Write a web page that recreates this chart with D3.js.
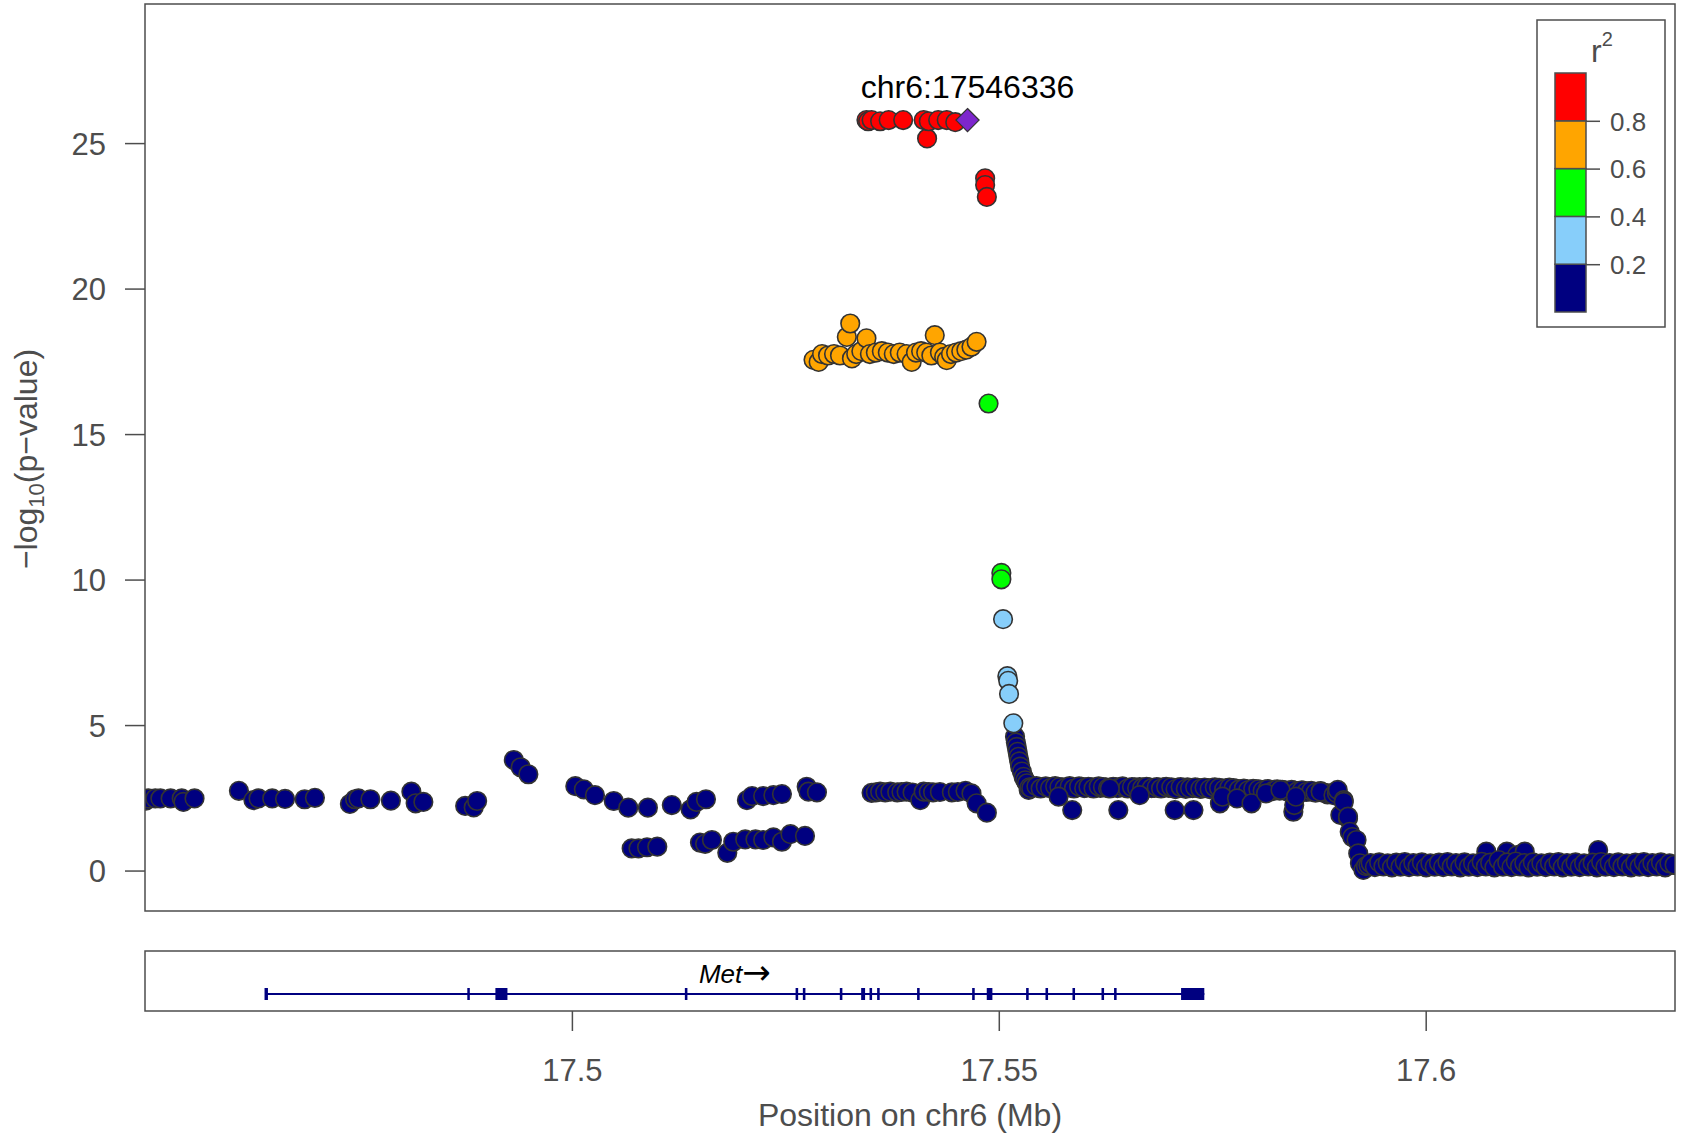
<!DOCTYPE html>
<html lang="en">
	<head>
		<meta charset="UTF-8" />
		<title>LocusZoom-style plot chr6</title>
		<script src="https://d3js.org/d3.v7.min.js"></script>
		<style>
			body { margin: 0; background: #fff; }
			text { font-family: 'Liberation Sans', Arial, sans-serif; }
		</style>
	</head>
	<body>
		<svg width="1681" height="1134"></svg>

		<script>
			// r^2 bins (low -> high) and their colours
			const ldBreaks = [0.2, 0.4, 0.6, 0.8];
			const ldColors = ['#000080', '#87CEFA', '#00FF00', '#FFA500', '#FF0000'];

			// [position (Mb), -log10(p)] per LD bin
			const snpsLow = [
				[17.4500, 2.45], [17.4501, 2.40], [17.4504, 2.48], [17.4512, 2.48], [17.4518, 2.48], [17.4530, 2.48],
				[17.4543, 2.48], [17.4545, 2.36], [17.4558, 2.48], [17.4610, 2.74], [17.4627, 2.42], [17.4633, 2.48],
				[17.4649, 2.48], [17.4664, 2.46], [17.4687, 2.45], [17.4699, 2.50], [17.4740, 2.29], [17.4746, 2.45],
				[17.4750, 2.48], [17.4764, 2.45], [17.4788, 2.40], [17.4812, 2.71], [17.4817, 2.31], [17.4826, 2.36],
				[17.4875, 2.22], [17.4885, 2.17], [17.4889, 2.39], [17.4932, 3.80], [17.4940, 3.55], [17.4949, 3.31],
				[17.5004, 2.90], [17.5014, 2.79], [17.5027, 2.59], [17.5049, 2.39], [17.5066, 2.16], [17.5089, 2.16],
				[17.5117, 2.25], [17.5139, 2.10], [17.5146, 2.36], [17.5157, 2.45], [17.5205, 2.42], [17.5211, 2.56],
				[17.5224, 2.56], [17.5236, 2.59], [17.5246, 2.63], [17.5275, 2.88], [17.5277, 2.71], [17.5287, 2.69],
				[17.5070, 0.76], [17.5078, 0.76], [17.5088, 0.80], [17.5100, 0.82], [17.5150, 0.96], [17.5156, 0.92],
				[17.5164, 1.05], [17.5182, 0.61], [17.5189, 0.99], [17.5203, 1.07], [17.5215, 1.07], [17.5224, 1.05],
				[17.5236, 1.14], [17.5246, 0.99], [17.5256, 1.25], [17.5273, 1.19],
				[17.5351, 2.67], [17.5356, 2.69], [17.5361, 2.71], [17.5367, 2.69], [17.5373, 2.71], [17.5381, 2.69],
				[17.5386, 2.70], [17.5392, 2.71], [17.5399, 2.68], [17.5408, 2.42], [17.5412, 2.71], [17.5418, 2.70],
				[17.5423, 2.69], [17.5431, 2.70], [17.5445, 2.69], [17.5452, 2.70], [17.5461, 2.74], [17.5468, 2.65],
				[17.5474, 2.31], [17.5486, 1.99],
				[17.5519, 4.60], [17.5520, 4.40], [17.5521, 4.25], [17.5522, 4.08], [17.5523, 3.91], [17.5524, 3.75],
				[17.5525, 3.57], [17.5527, 3.40], [17.5529, 3.22], [17.5531, 3.10], [17.5533, 3.00], [17.5535, 2.77],
				[17.5536, 2.86], [17.5541, 2.88], [17.5546, 2.85], [17.5552, 2.87], [17.5557, 2.86], [17.5563, 2.88],
				[17.5568, 2.84], [17.5574, 2.86], [17.5580, 2.87], [17.5585, 2.85], [17.5591, 2.86], [17.5597, 2.88],
				[17.5602, 2.85], [17.5608, 2.86], [17.5614, 2.87], [17.5619, 2.84], [17.5625, 2.86], [17.5631, 2.85],
				[17.5636, 2.87], [17.5642, 2.86], [17.5648, 2.85], [17.5653, 2.84], [17.5659, 2.86], [17.5665, 2.87],
				[17.5670, 2.85], [17.5676, 2.86], [17.5682, 2.84], [17.5687, 2.85], [17.5693, 2.86], [17.5699, 2.84],
				[17.5704, 2.83], [17.5710, 2.85], [17.5716, 2.84], [17.5721, 2.86], [17.5727, 2.83], [17.5733, 2.84],
				[17.5738, 2.82], [17.5744, 2.83], [17.5750, 2.84], [17.5755, 2.81], [17.5761, 2.82], [17.5767, 2.83],
				[17.5772, 2.80], [17.5778, 2.81], [17.5784, 2.79], [17.5789, 2.80], [17.5795, 2.78], [17.5801, 2.79],
				[17.5806, 2.77], [17.5812, 2.78], [17.5818, 2.76], [17.5823, 2.77], [17.5829, 2.75], [17.5835, 2.76],
				[17.5840, 2.74], [17.5846, 2.75], [17.5852, 2.73], [17.5857, 2.74], [17.5863, 2.72], [17.5868, 2.70],
				[17.5874, 2.71], [17.5880, 2.68], [17.5885, 2.62],
				[17.5538, 2.83], [17.5544, 2.90], [17.5549, 2.82], [17.5555, 2.89], [17.5560, 2.83], [17.5566, 2.90],
				[17.5571, 2.87], [17.5577, 2.83], [17.5583, 2.90], [17.5588, 2.82], [17.5594, 2.89], [17.5600, 2.83],
				[17.5605, 2.88], [17.5611, 2.82], [17.5617, 2.89], [17.5622, 2.87], [17.5628, 2.83], [17.5634, 2.88],
				[17.5639, 2.83], [17.5645, 2.89], [17.5651, 2.82], [17.5656, 2.87], [17.5662, 2.83], [17.5668, 2.84],
				[17.5673, 2.88], [17.5679, 2.83], [17.5685, 2.87], [17.5690, 2.82], [17.5696, 2.88], [17.5702, 2.86],
				[17.5707, 2.80], [17.5713, 2.87], [17.5719, 2.81], [17.5724, 2.83], [17.5730, 2.86], [17.5736, 2.81],
				[17.5741, 2.85], [17.5747, 2.80], [17.5753, 2.86], [17.5758, 2.84], [17.5764, 2.79], [17.5770, 2.85],
				[17.5775, 2.83], [17.5781, 2.78], [17.5787, 2.82], [17.5792, 2.76], [17.5798, 2.81], [17.5804, 2.79],
				[17.5809, 2.74], [17.5815, 2.80], [17.5821, 2.73], [17.5826, 2.79], [17.5832, 2.77], [17.5838, 2.72],
				[17.5843, 2.77], [17.5849, 2.71], [17.5855, 2.76], [17.5860, 2.70], [17.5866, 2.74], [17.5871, 2.68],
				[17.5877, 2.73], [17.5883, 2.66], [17.5888, 2.65],
				[17.5570, 2.54], [17.5586, 2.08], [17.5630, 2.82], [17.5640, 2.08], [17.5665, 2.59], [17.5706, 2.08],
				[17.5728, 2.08], [17.5759, 2.31], [17.5762, 2.54], [17.5779, 2.48], [17.5796, 2.31], [17.5813, 2.65],
				[17.5830, 2.77], [17.5845, 2.02], [17.5846, 2.25], [17.5848, 2.54], [17.5877, 2.71],
				[17.5892, 2.59], [17.5896, 2.65], [17.5897, 2.77], [17.5900, 1.91], [17.5904, 2.42], [17.5904, 2.36],
				[17.5909, 1.79], [17.5909, 1.85], [17.5911, 1.33], [17.5914, 1.15], [17.5919, 1.05], [17.5921, 0.59],
				[17.5923, 0.25], [17.5927, 0.02], [17.5930, 0.15],
				[17.5933, 0.18], [17.5938, 0.21], [17.5943, 0.17], [17.5948, 0.20], [17.5953, 0.19], [17.5958, 0.22],
				[17.5963, 0.18], [17.5968, 0.20], [17.5973, 0.17], [17.5978, 0.21], [17.5983, 0.19], [17.5988, 0.20],
				[17.5993, 0.18], [17.5998, 0.22], [17.6003, 0.19], [17.6008, 0.17], [17.6013, 0.21], [17.6018, 0.20],
				[17.6023, 0.18], [17.6028, 0.22], [17.6033, 0.19], [17.6038, 0.20], [17.6043, 0.17], [17.6048, 0.21],
				[17.6053, 0.19], [17.6058, 0.20], [17.6063, 0.23], [17.6068, 0.18], [17.6071, 0.65], [17.6073, 0.20],
				[17.6078, 0.19], [17.6083, 0.22], [17.6088, 0.18], [17.6093, 0.21], [17.6095, 0.65], [17.6098, 0.20],
				[17.6103, 0.19], [17.6107, 0.53], [17.6108, 0.22], [17.6113, 0.18], [17.6116, 0.65], [17.6118, 0.20],
				[17.6123, 0.21], [17.6128, 0.19], [17.6133, 0.17], [17.6138, 0.20], [17.6143, 0.22], [17.6148, 0.18],
				[17.6153, 0.21], [17.6158, 0.19], [17.6163, 0.20], [17.6168, 0.17], [17.6173, 0.22], [17.6178, 0.19],
				[17.6183, 0.21], [17.6188, 0.18], [17.6193, 0.20], [17.6198, 0.19], [17.6202, 0.70], [17.6203, 0.21],
				[17.6208, 0.18], [17.6213, 0.20], [17.6218, 0.22], [17.6223, 0.19], [17.6228, 0.17], [17.6233, 0.21],
				[17.6238, 0.20], [17.6243, 0.18], [17.6248, 0.22], [17.6253, 0.19], [17.6258, 0.20], [17.6263, 0.21],
				[17.6268, 0.18], [17.6273, 0.20], [17.6278, 0.19], [17.6283, 0.22], [17.6288, 0.20], [17.6294, 0.18],
				[17.59355, 0.26], [17.59405, 0.12], [17.59455, 0.28], [17.59505, 0.14], [17.59555, 0.25], [17.59605, 0.11],
				[17.59655, 0.27], [17.59705, 0.13], [17.59755, 0.29], [17.59805, 0.12], [17.59855, 0.26], [17.59905, 0.14],
				[17.59955, 0.28], [17.60005, 0.11], [17.60055, 0.25], [17.60105, 0.13], [17.60155, 0.27], [17.60205, 0.12],
				[17.60255, 0.29], [17.60305, 0.14], [17.60355, 0.26], [17.60405, 0.11], [17.60455, 0.28], [17.60505, 0.13],
				[17.60555, 0.25], [17.60605, 0.12], [17.60655, 0.30], [17.60705, 0.14], [17.60755, 0.27], [17.60805, 0.11],
				[17.60855, 0.36], [17.60905, 0.13], [17.60955, 0.28], [17.61005, 0.12], [17.61055, 0.31], [17.61105, 0.14],
				[17.61155, 0.26], [17.61205, 0.11], [17.61255, 0.28], [17.61305, 0.13], [17.61355, 0.25], [17.61405, 0.12],
				[17.61455, 0.27], [17.61505, 0.14], [17.61555, 0.29], [17.61605, 0.11], [17.61655, 0.26], [17.61705, 0.13],
				[17.61755, 0.28], [17.61805, 0.12], [17.61855, 0.25], [17.61905, 0.14], [17.61955, 0.27], [17.62005, 0.11],
				[17.62055, 0.29], [17.62105, 0.13], [17.62155, 0.26], [17.62205, 0.12], [17.62255, 0.28], [17.62305, 0.14],
				[17.62355, 0.25], [17.62405, 0.11], [17.62455, 0.27], [17.62505, 0.13], [17.62555, 0.29], [17.62605, 0.12],
				[17.62655, 0.26], [17.62705, 0.14], [17.62755, 0.28], [17.62805, 0.11], [17.62855, 0.25], [17.62915, 0.20]
			];
			const snpsMidLow = [
				[17.5505, 8.64], [17.5510, 6.68], [17.5511, 6.52], [17.5512, 6.07], [17.5517, 5.06]
			];
			const snpsMid = [
				[17.5488, 16.05], [17.5503, 10.23], [17.5503, 10.01]
			];
			const snpsMidHigh = [
				[17.5283, 17.55], [17.5289, 17.48], [17.5293, 17.75], [17.5300, 17.70], [17.5307, 17.75], [17.5314, 17.70],
				[17.5322, 18.34], [17.5326, 18.80], [17.5328, 17.60], [17.5333, 17.75], [17.5339, 17.85], [17.5345, 18.29],
				[17.5349, 17.75], [17.5356, 17.80], [17.5363, 17.85], [17.5370, 17.80], [17.5377, 17.75], [17.5384, 17.80],
				[17.5392, 17.75], [17.5398, 17.48], [17.5403, 17.80], [17.5409, 17.85], [17.5415, 17.80], [17.5421, 17.70],
				[17.5425, 18.40], [17.5431, 17.80], [17.5436, 17.65], [17.5439, 17.54], [17.5444, 17.75], [17.5450, 17.80],
				[17.5456, 17.85], [17.5462, 17.90], [17.5468, 18.00], [17.5474, 18.17]
			];
			const snpsHigh = [
				[17.5345, 25.79], [17.5347, 25.75], [17.5351, 25.79], [17.5361, 25.75], [17.5371, 25.79], [17.5388, 25.79],
				[17.5412, 25.79], [17.5416, 25.16], [17.5418, 25.75], [17.5429, 25.79], [17.5439, 25.79], [17.5449, 25.72],
				[17.5484, 23.79], [17.5484, 23.56], [17.5486, 23.15]
			];
			const leadSnp = { name: 'chr6:17546336', pos: 17.546336, logp: 25.79 };

			// gene track: Met
			const geneName = 'Met';
			const geneSpan = [17.46409, 17.57407];
			const exonStarts = [17.46400, 17.48775, 17.49104, 17.51323, 17.52620, 17.52705, 17.53138, 17.53388, 17.53486, 17.53575,
				17.54043, 17.54688, 17.54859, 17.55320, 17.55547, 17.55863, 17.56203, 17.56350, 17.57135];
			const exonEnds = [17.46440, 17.48795, 17.49245, 17.51353, 17.52650, 17.52735, 17.53168, 17.53434, 17.53516, 17.53605,
				17.54073, 17.54718, 17.54925, 17.55350, 17.55577, 17.55893, 17.56233, 17.56380, 17.57407];

			const xTicks = [17.5, 17.55, 17.6];
			const yTicks = [0, 5, 10, 15, 20, 25];

			const svg = d3.select('svg');
			const grey = '#4d4d4d';

			const plot = { left: 145, right: 1675, top: 4, bottom: 911 };
			const genePanel = { top: 951, bottom: 1011 };

			const x = d3.scaleLinear().domain([17.45, 17.6292]).range([plot.left, plot.right]);
			const y = d3.scaleLinear().domain([-1.39, 29.78]).range([plot.bottom, plot.top]);

			svg.append('rect').attr('width', 1681).attr('height', 1134).attr('fill', '#fff');

			svg.append('clipPath').attr('id', 'plotClip')
				.append('rect')
				.attr('x', plot.left).attr('y', plot.top)
				.attr('width', plot.right - plot.left).attr('height', plot.bottom - plot.top);

			// y axis
			const yAxis = svg.append('g')
				.attr('transform', `translate(${plot.left},0)`)
				.call(d3.axisLeft(y).tickValues(yTicks).tickSize(20).tickPadding(19));
			yAxis.select('.domain').remove();
			yAxis.selectAll('line').attr('stroke', grey).attr('stroke-width', 1.5);
			yAxis.selectAll('text').attr('fill', grey).style('font-size', '31px').attr('dy', '0.36em');

			svg.append('text')
				.attr('transform', `translate(37,459) rotate(-90)`)
				.attr('text-anchor', 'middle')
				.attr('fill', grey)
				.style('font-size', '32px')
				.call(t => {
					t.append('tspan').text('\u2212log');
					t.append('tspan').attr('dy', 7).style('font-size', '22px').text('10');
					t.append('tspan').attr('dy', -7).text('(p\u2212value)');
				});

			// points
			const pts = svg.append('g').attr('clip-path', 'url(#plotClip)');
			[snpsLow, snpsMidLow, snpsMid, snpsMidHigh, snpsHigh].forEach((group, i) => {
				pts.selectAll(null)
					.data(group)
					.enter()
					.append('circle')
					.attr('cx', d => x(d[0]))
					.attr('cy', d => y(d[1]))
					.attr('r', 9.3)
					.attr('fill', ldColors[i])
					.attr('stroke', '#333')
					.attr('stroke-width', 1.6);
			});

			pts.append('path')
				.attr('d', d3.symbol().type(d3.symbolDiamond2).size(340))
				.attr('transform', `translate(${x(leadSnp.pos)},${y(leadSnp.logp)})`)
				.attr('fill', '#7D26CD')
				.attr('stroke', '#333')
				.attr('stroke-width', 1.3);

			svg.append('text')
				.attr('x', x(leadSnp.pos))
				.attr('y', 98)
				.attr('text-anchor', 'middle')
				.attr('fill', '#000')
				.style('font-size', '32px')
				.text(leadSnp.name);

			// plot frame
			svg.append('rect')
				.attr('x', plot.left).attr('y', plot.top)
				.attr('width', plot.right - plot.left).attr('height', plot.bottom - plot.top)
				.attr('fill', 'none').attr('stroke', grey).attr('stroke-width', 1.5);

			// legend
			const leg = { left: 1537, right: 1665, top: 20, bottom: 327, barLeft: 1555, barRight: 1586, barTop: 73, barBottom: 312 };
			svg.append('rect')
				.attr('x', leg.left).attr('y', leg.top)
				.attr('width', leg.right - leg.left).attr('height', leg.bottom - leg.top)
				.attr('fill', '#fff').attr('stroke', grey).attr('stroke-width', 1.5);

			const ly = d3.scaleLinear().domain([0, 1]).range([leg.barBottom, leg.barTop]);
			const binEdges = [0, ...ldBreaks, 1];
			svg.append('g').selectAll('rect')
				.data(ldColors)
				.enter()
				.append('rect')
				.attr('x', leg.barLeft)
				.attr('y', (d, i) => ly(binEdges[i + 1]))
				.attr('width', leg.barRight - leg.barLeft)
				.attr('height', (d, i) => ly(binEdges[i]) - ly(binEdges[i + 1]))
				.attr('fill', d => d)
				.attr('stroke', grey)
				.attr('stroke-width', 1.5);

			const legAxis = svg.append('g')
				.attr('transform', `translate(${leg.barRight},0)`)
				.call(d3.axisRight(ly).tickValues(ldBreaks).tickSize(14).tickPadding(10).tickFormat(d3.format('.1f')));
			legAxis.select('.domain').remove();
			legAxis.selectAll('line').attr('stroke', grey).attr('stroke-width', 1.5);
			legAxis.selectAll('text').attr('fill', grey).style('font-size', '26px').attr('dy', '0.36em');

			svg.append('text')
				.attr('x', 1591)
				.attr('y', 62)
				.attr('fill', grey)
				.style('font-size', '32px')
				.call(t => {
					t.append('tspan').text('r');
					t.append('tspan').attr('dy', -16).style('font-size', '20px').text('2');
				});

			// gene panel
			svg.append('rect')
				.attr('x', plot.left).attr('y', genePanel.top)
				.attr('width', plot.right - plot.left).attr('height', genePanel.bottom - genePanel.top)
				.attr('fill', 'none').attr('stroke', grey).attr('stroke-width', 1.5);

			const geneY = 994;
			svg.append('line')
				.attr('x1', x(geneSpan[0])).attr('x2', x(geneSpan[1]))
				.attr('y1', geneY).attr('y2', geneY)
				.attr('stroke', '#000080').attr('stroke-width', 2);

			svg.append('g').selectAll('rect')
				.data(exonStarts.map((s, i) => [s, exonEnds[i]]))
				.enter()
				.append('rect')
				.attr('x', d => x(d[0]))
				.attr('y', geneY - 6)
				.attr('width', d => Math.max(2.5, x(d[1]) - x(d[0])))
				.attr('height', 12)
				.attr('fill', '#000080');

			svg.append('text')
				.attr('x', x((geneSpan[0] + geneSpan[1]) / 2))
				.attr('y', 983)
				.attr('text-anchor', 'middle')
				.attr('fill', '#000')
				.style('font-size', '26px')
				.call(t => {
					t.append('tspan').style('font-style', 'italic').text(geneName);
					t.append('tspan').style('font-family', "'DejaVu Sans', sans-serif").style('font-size', '34px').attr('dy', 1).text('\u2192');
				});

			// x axis
			const xAxis = svg.append('g')
				.attr('transform', `translate(0,${genePanel.bottom})`)
				.call(d3.axisBottom(x).tickValues(xTicks).tickSize(20).tickPadding(28).tickFormat(d => d3.format('')(+d.toFixed(2))));
			xAxis.select('.domain').remove();
			xAxis.selectAll('line').attr('stroke', grey).attr('stroke-width', 1.5);
			xAxis.selectAll('text').attr('fill', grey).style('font-size', '31px');

			svg.append('text')
				.attr('x', (plot.left + plot.right) / 2)
				.attr('y', 1126)
				.attr('text-anchor', 'middle')
				.attr('fill', grey)
				.style('font-size', '32px')
				.text('Position on chr6 (Mb)');
		</script>
	</body>
</html>
